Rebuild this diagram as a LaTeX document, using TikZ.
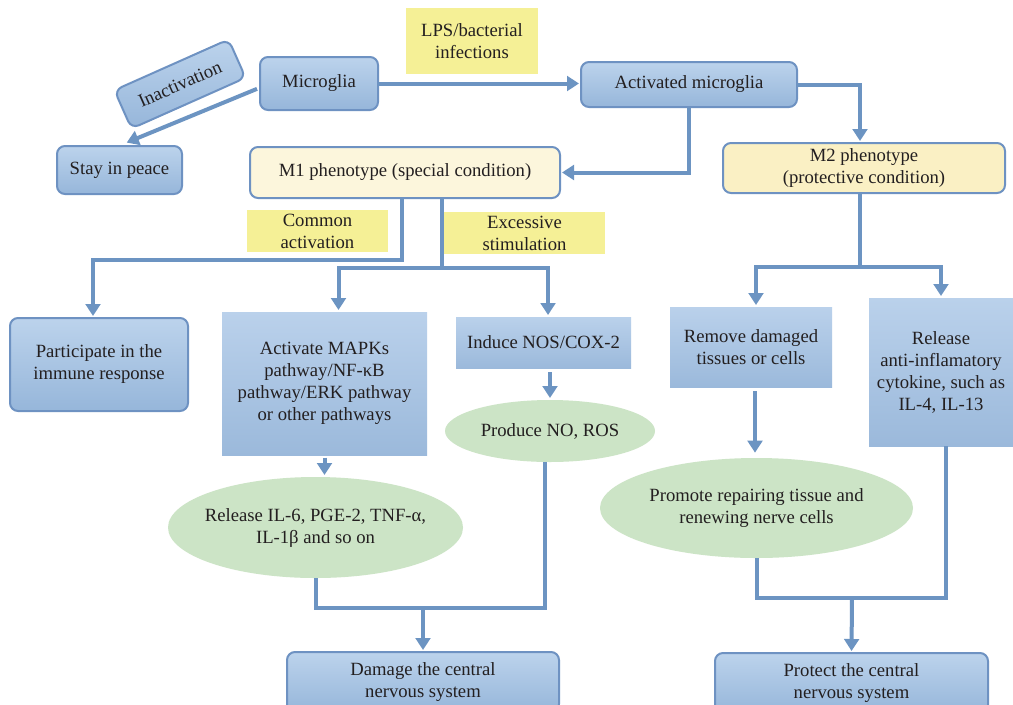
\documentclass[tikz,border=0pt]{standalone}
\usepackage{fontspec}
\setmainfont{Liberation Serif}
\usetikzlibrary{arrows.meta,shapes.geometric,calc}
\definecolor{txt}{RGB}{35,31,32}
\definecolor{bord}{RGB}{110,146,194}
\definecolor{btop}{RGB}{188,211,236}
\definecolor{bbot}{RGB}{150,182,218}
\definecolor{rtop}{RGB}{186,209,235}
\definecolor{rbot}{RGB}{155,185,219}
\definecolor{yel}{RGB}{245,240,150}
\definecolor{mone}{RGB}{252,246,220}
\definecolor{mtwo}{RGB}{250,240,196}
\definecolor{grn}{RGB}{204,228,198}
\definecolor{lc}{RGB}{108,148,194}
\begin{document}
\begin{tikzpicture}[x=0.75pt,y=-0.75pt,
  every node/.style={font=\fontsize{14}{16.5}\selectfont, text=txt, align=center, inner sep=2pt, outer sep=0pt},
  bluebox/.style={rounded corners=6pt, draw=bord, line width=1.5pt, top color=btop, bottom color=bbot},
  bluerect/.style={top color=rtop, bottom color=rbot},
  lab/.style={fill=yel},
  mones/.style={rounded corners=6pt, draw=bord, line width=1.5pt, fill=mone},
  mtwos/.style={rounded corners=6pt, draw=bord, line width=1.5pt, fill=mtwo},
  ell/.style={ellipse, fill=grn, inner sep=0pt},
  conn/.style={line width=3pt, draw=lc},
  arr/.style={conn, -{Triangle[width=11pt,length=9pt]}, shorten >=1.5pt}]
\useasboundingbox (0,0) rectangle (1013,704);
\fill[white] (0,0) rectangle (1013,704);
\clip (0,0) rectangle (1013,704);

\node[bluebox, rotate=24, minimum width=93.75pt, minimum height=31.5pt] (inact) at (180,84) {Inactivation};
\node[bluebox, minimum width=88.5pt, minimum height=39.75pt] (micro) at (319,83.5) {Microglia};
\node[bluebox, minimum width=93.75pt, minimum height=36pt] (stay) at (119.5,170) {Stay in peace};
\node[lab, minimum width=99pt, minimum height=49.5pt] (lps) at (472,41) {LPS/bacterial\\infections};
\node[bluebox, minimum width=162pt, minimum height=33.75pt] (act) at (689,84.5) {Activated microglia};
\node[mones, minimum width=232.5pt, minimum height=38.25pt] (m1) at (405,172.5) {M1 phenotype (special condition)};
\node[mtwos, minimum width=211.5pt, minimum height=37.5pt] (m2) at (864,168) {M2 phenotype\\(protective condition)};
\node[lab, minimum width=105.75pt, minimum height=31.5pt] (common) at (317.5,231) {Common\\activation};
\node[lab, minimum width=120.75pt, minimum height=31.5pt] (excess) at (524.5,233) {Excessive\\stimulation};
\node[bluebox, minimum width=133.5pt, minimum height=69.75pt] (part) at (99,364.5) {Participate in the\\immune response};
\node[bluerect, minimum width=153.75pt, minimum height=107.25pt] (actv) at (324.5,383.5) {Activate MAPKs\\pathway/NF-κB\\pathway/ERK pathway\\or other pathways};
\node[bluerect, minimum width=131.25pt, minimum height=38.25pt] (ind) at (543.5,342.5) {Induce NOS/COX-2};
\node[ell, minimum width=157.5pt, minimum height=46.5pt, label={[name=prodt]center:Produce NO, ROS}] (prod) at (550,431) {};
\node[ell, minimum width=221.25pt, minimum height=75.75pt, label={[name=relt, align=center]center:Release IL-6, PGE-2, TNF-α,\\IL-1β and so on}] (rel) at (315.5,527.5) {};
\node[bluerect, minimum width=121.5pt, minimum height=60pt] (rem) at (751,347) {Remove damaged\\tissues or cells};
\node[bluerect, minimum width=108pt, minimum height=111pt] (ria) at (941,372) {Release\\anti-inflamatory\\cytokine, such as\\IL-4, IL-13};
\node[ell, minimum width=234.75pt, minimum height=75pt, label={[name=promt, align=center]center:Promote repairing tissue and\\renewing nerve cells}] (prom) at (756.5,508) {};
\node[bluebox, minimum width=204pt, minimum height=45pt] (dmg) at (423,682) {Damage the central\\nervous system};
\node[bluebox, minimum width=204.75pt, minimum height=45pt] (prot) at (851.5,683) {Protect the central\\nervous system};

\coordinate (j1) at (402,260);
\coordinate (j2) at (442,268);
\coordinate (j3) at (423,608);
\coordinate (j4) at (860,267);
\coordinate (j5) at (852,598);

\draw[arr] ([xshift=-2.25pt,yshift=-4pt]micro.west) -- ([xshift=4pt,yshift=2pt]stay.north);
\draw[arr] (micro.east) -- (micro.east -| act.west);
\draw[arr] (act.east) -| ([xshift=-3pt]m2.north);
\draw[arr] (act.south) |- (m1.east);
\draw[arr] (m1.south -| j1) -- (j1) -| ([xshift=-4.5pt]part.north);
\draw[conn] (m1.south -| j2) -- (j2);
\draw[arr] (j2) -| ([xshift=10.5pt]actv.north);
\draw[arr] (j2) -| ([xshift=3.4pt]ind.north);
\draw[arr, shorten <=3pt] (ind.south -| prod.north) -- (prod.north);
\draw[arr, shorten <=2pt] (actv.south) -- (actv.south |- rel.north);
\draw[conn] (rel.south) |- ([xshift=-4pt]j3 -| prod.south) -- ([xshift=-4pt]prod.south);
\draw[arr] (j3) -- (dmg.north);
\draw[conn] (m2.south -| j4) -- (j4);
\draw[arr] (j4) -| ([xshift=3.75pt]rem.north);
\draw[arr] (j4) -| (ria.north);
\draw[arr, shorten <=3pt, shorten >=4pt] ([xshift=3pt]rem.south) -- ([xshift=3pt]rem.south |- prom.north);
\draw[conn] (prom.south) |- ([xshift=3.5pt]j5 -| ria.south) -- ([xshift=3.5pt]ria.south);
\draw[arr] (j5) -- (prot.north);
\end{tikzpicture}
\end{document}
